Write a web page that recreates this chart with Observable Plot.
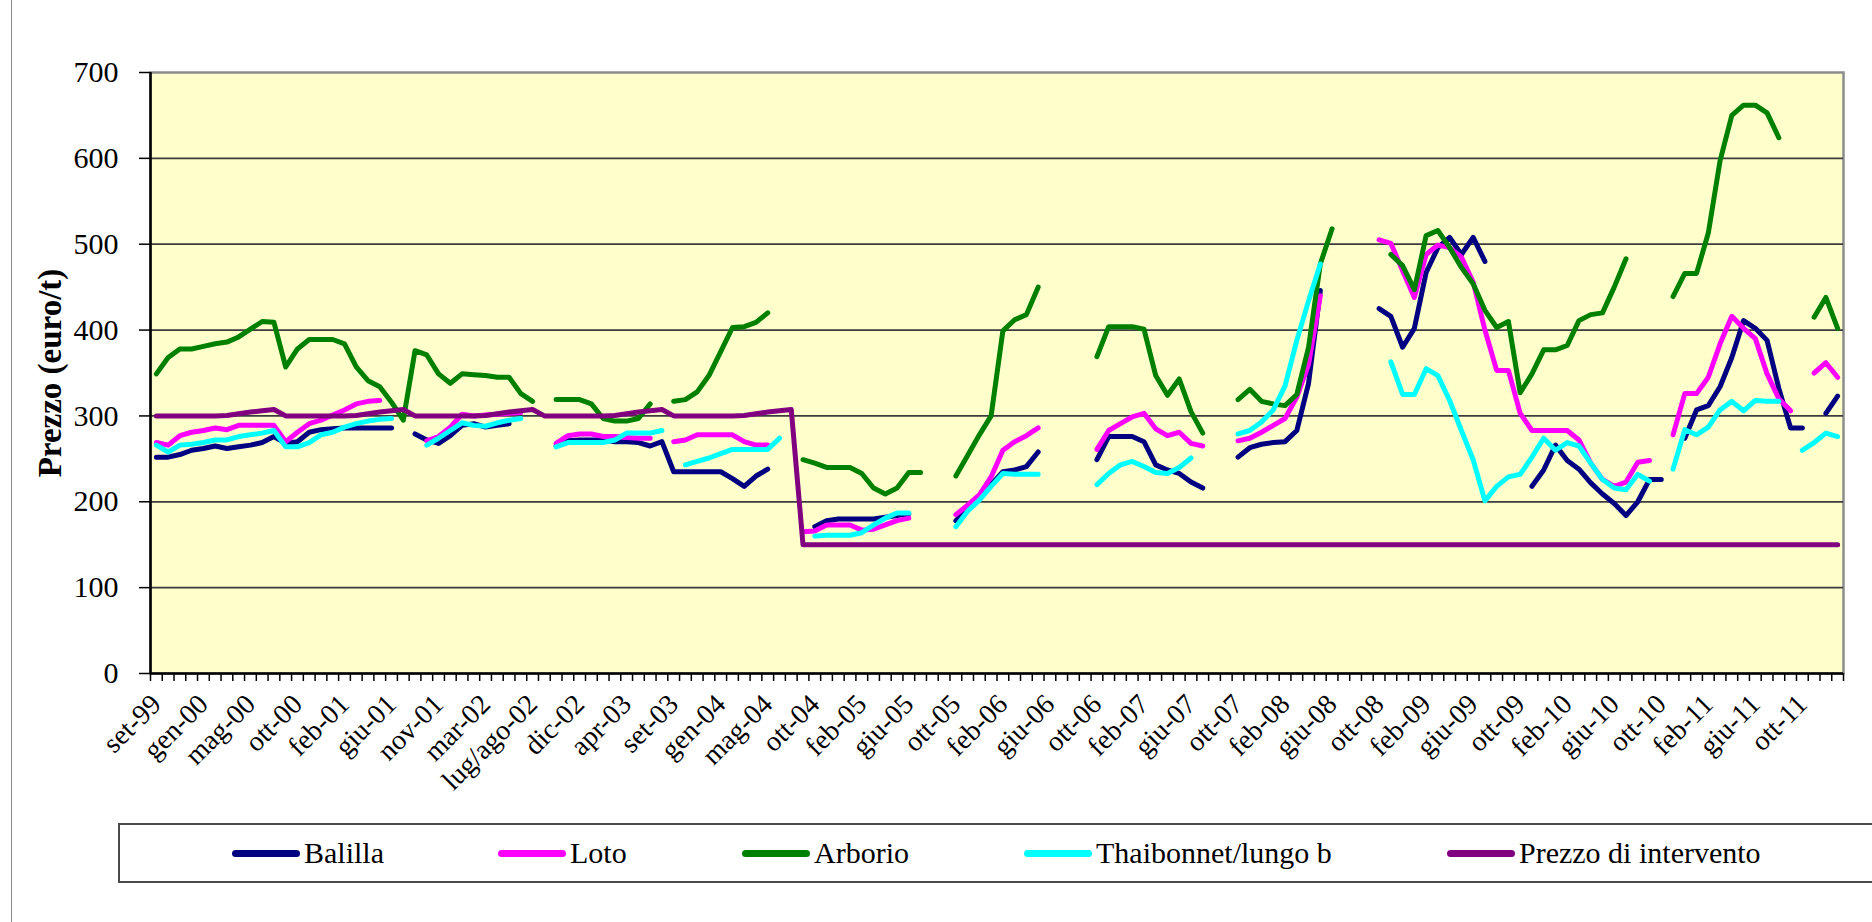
<!DOCTYPE html>
<html>
<head>
<meta charset="utf-8">
<script src="https://cdn.jsdelivr.net/npm/d3@7"></script>
<script src="https://cdn.jsdelivr.net/npm/@observablehq/plot@0.6"></script>
<style>
  body { margin: 0; background: #fff; }
  #wrap { position: relative; width: 1872px; height: 922px; overflow: hidden; font-family: "Liberation Serif", "Times New Roman", serif; }
  #chart { position: absolute; left: 0; top: 0; }
  #outer { position: absolute; left: 11px; top: -2px; width: 1900px; height: 1000px; border-left: 1px solid #8a8a8a; }
  #legend { position: absolute; left: 118px; top: 823px; width: 1800px; height: 60px; border: 2px solid #4a4a4a; box-sizing: border-box; background: #fff; }
  .item { position: absolute; top: 0; height: 100%; display: flex; align-items: center; font-family: "Liberation Serif", "Times New Roman", serif; font-size: 30px; color: #000; white-space: nowrap; }
  .sw { width: 68px; height: 7px; border-radius: 4px; margin-right: 4px; }
</style>
</head>
<body>
<div id="wrap">
  <div id="outer"></div>
  <div id="chart"></div>
  <div id="legend"></div>
</div>
<script>
// ---- categories (x axis) ----
const categories = [
  "set-99","ott-99","nov-99","dic-99","gen-00","feb-00","mar-00","apr-00","mag-00","giu-00","lug/ago-00",
  "set-00","ott-00","nov-00","dic-00","gen-01","feb-01","mar-01","apr-01","mag-01","giu-01","lug/ago-01",
  "set-01","ott-01","nov-01","dic-01","gen-02","feb-02","mar-02","apr-02","mag-02","giu-02","lug/ago-02",
  "set-02","ott-02","nov-02","dic-02","gen-03","feb-03","mar-03","apr-03","mag-03","giu-03","lug/ago-03",
  "set-03","ott-03","nov-03","dic-03","gen-04","feb-04","mar-04","apr-04","mag-04","giu-04","lug/ago-04",
  "set-04","ott-04","nov-04","dic-04","gen-05","feb-05","mar-05","apr-05","mag-05","giu-05","lug-05","ago-05",
  "set-05","ott-05","nov-05","dic-05","gen-06","feb-06","mar-06","apr-06","mag-06","giu-06","lug-06","ago-06",
  "set-06","ott-06","nov-06","dic-06","gen-07","feb-07","mar-07","apr-07","mag-07","giu-07","lug-07","ago-07",
  "set-07","ott-07","nov-07","dic-07","gen-08","feb-08","mar-08","apr-08","mag-08","giu-08","lug-08","ago-08",
  "set-08","ott-08","nov-08","dic-08","gen-09","feb-09","mar-09","apr-09","mag-09","giu-09","lug-09","ago-09",
  "set-09","ott-09","nov-09","dic-09","gen-10","feb-10","mar-10","apr-10","mag-10","giu-10","lug-10","ago-10",
  "set-10","ott-10","nov-10","dic-10","gen-11","feb-11","mar-11","apr-11","mag-11","giu-11","lug-11","ago-11",
  "set-11","ott-11","nov-11","dic-11","gen-12"
];
// labelled categories (every 4th)
const tickLabels = ["set-99","gen-00","mag-00","ott-00","feb-01","giu-01","nov-01","mar-02","lug/ago-02","dic-02",
  "apr-03","set-03","gen-04","mag-04","ott-04","feb-05","giu-05","ott-05","feb-06","giu-06","ott-06","feb-07",
  "giu-07","ott-07","feb-08","giu-08","ott-08","feb-09","giu-09","ott-09","feb-10","giu-10","ott-10","feb-11",
  "giu-11","ott-11"];
const yTicks = [0, 100, 200, 300, 400, 500, 600, 700];
const _ = null;

// ---- series (euro/t), one value per category, null = no quotation ----
const balilla = [
  252,252,255,260,262,265,262,264,266,269,276,
  268,270,281,284,285,286,286,286,286,286,_,
  279,272,268,277,289,291,287,289,291,_,_,
  _,265,271,272,272,272,270,270,269,265,270,
  235,235,235,235,235,227,218,230,238,_,_,
  _,171,178,180,180,180,180,182,184,186,_,_,
  _,178,192,204,220,235,237,241,258,_,_,_,
  _,249,276,276,276,270,243,237,233,223,216,_,
  _,252,263,267,269,270,283,338,446,_,_,_,
  _,425,416,380,402,467,496,508,488,508,480,_,
  _,_,218,237,266,248,238,222,209,198,184,200,
  226,226,_,274,307,312,334,368,411,402,388,332,
  286,286,_,303,323,313,312
];
const loto = [
  269,266,277,281,283,286,284,289,289,289,289,
  270,281,291,295,301,307,314,317,318,_,_,
  _,271,276,287,302,300,301,302,303,304,_,
  _,268,277,279,279,276,276,275,274,274,_,
  270,272,278,278,278,278,270,266,266,_,_,
  165,166,173,173,173,167,168,173,178,181,_,_,
  _,185,196,208,229,260,270,277,286,_,_,_,
  _,261,283,291,299,303,285,277,281,268,265,_,
  _,271,274,281,289,297,322,360,440,_,_,_,
  _,505,501,469,438,488,499,496,485,456,400,353,
  353,303,283,283,283,283,272,245,226,218,223,246,
  248,_,278,326,326,345,384,416,402,390,349,320,
  306,_,350,362,345,334
];
const arborio = [
  349,368,378,378,381,384,386,392,401,410,409,
  357,378,389,389,389,384,357,341,334,316,295,
  376,371,349,338,349,348,347,345,345,326,317,
  _,319,319,319,314,297,294,294,297,314,_,
  317,319,328,347,375,403,404,409,420,_,_,
  249,245,240,240,240,233,216,209,216,234,234,_,
  _,230,254,278,300,399,412,418,450,_,_,_,
  _,369,404,404,404,401,347,324,343,305,280,_,
  _,319,331,317,314,312,325,380,477,518,_,_,
  _,_,488,475,447,510,516,496,473,454,423,403,
  410,327,349,377,377,382,411,418,420,450,483,_,
  _,_,439,466,466,513,597,650,662,662,653,624,
  _,_,415,438,402,402
];
const thaibonnet = [
  266,258,266,267,269,272,272,276,278,280,283,
  264,264,269,278,281,287,291,294,296,297,_,
  _,266,274,283,292,289,288,292,295,297,_,
  _,264,269,269,269,269,272,280,280,280,283,
  _,243,247,251,256,261,261,261,261,274,_,
  _,160,161,161,161,164,173,181,187,187,_,_,
  _,171,189,202,218,233,232,232,232,_,_,_,
  _,220,233,243,247,241,234,233,240,251,_,_,
  _,279,283,293,307,335,388,434,477,_,_,_,
  _,_,363,325,325,355,347,318,283,249,201,218,
  229,232,252,274,260,269,265,245,226,216,214,232,
  224,_,238,284,278,287,307,317,306,318,317,317,
  _,260,269,280,276,275
];
const intervento = [
  300,300,300,300,300,300,300.5,302.5,304.5,306,307.5,
  300,300,300,300,300,300,300.5,302.5,304.5,306,307.5,
  300,300,300,300,300,300,300.5,302.5,304.5,306,307.5,
  300,300,300,300,300,300,300.5,302.5,304.5,306,307.5,
  300,300,300,300,300,300,300.5,302.5,304.5,306,307.5,
  150,150,150,150,150,150,150,150,150,150,150,150,
  150,150,150,150,150,150,150,150,150,150,150,150,
  150,150,150,150,150,150,150,150,150,150,150,150,
  150,150,150,150,150,150,150,150,150,150,150,150,
  150,150,150,150,150,150,150,150,150,150,150,150,
  150,150,150,150,150,150,150,150,150,150,150,150,
  150,150,150,150,150,150,150,150,150,150,150,150,
  150,150,150,150,150,150,150,150,150,150,150,150,
  150
];

const seriesNames = ["Balilla", "Loto", "Arborio", "Thaibonnet/lungo b", "Prezzo di intervento"];
const seriesValues = [balilla, loto, arborio, thaibonnet, intervento];
const seriesColors = ["#000080", "#FF00FF", "#008000", "#00FFFF", "#800080"];

const W = 1872, H = 800;
const mL = 150, mR = 29, mT = 72, mB = H - 673;
const bw = (W - mL - mR) / categories.length;
const font = '"Liberation Serif", "Times New Roman", serif';

const lineMarks = seriesValues.map((vals, k) => {
  const rows = categories.map((c, i) => ({cat: c, value: vals[i] == null ? NaN : vals[i]}));
  return Plot.line(rows, {
    x: "cat", y: "value", stroke: seriesColors[k], strokeWidth: 5,
    strokeLinecap: "round", strokeLinejoin: "round"
  });
});

const chart = Plot.plot({
  width: W, height: H,
  marginLeft: mL, marginRight: mR, marginTop: mT, marginBottom: mB,
  style: {fontFamily: font, background: "transparent", color: "#000", overflow: "visible"},
  x: {type: "band", domain: categories, padding: 0},
  y: {domain: [0, 700]},
  marks: [
    Plot.frame({fill: "#FFFFCC", stroke: "#8c8c8c", strokeWidth: 2.5}),
    Plot.ruleY(yTicks.filter(v => v > 0 && v < 700), {stroke: "#3c3c3c", strokeWidth: 1.7}),
    ...lineMarks,
    Plot.ruleY([0], {stroke: "#000", strokeWidth: 2.5}),
    Plot.ruleX([categories[0]], {dx: -bw / 2, stroke: "#000", strokeWidth: 2.5}),
    Plot.axisY({ticks: yTicks, tickSize: 11, tickPadding: 21, fontSize: 30, label: null, tickFormat: d => String(d), stroke: "#000", strokeWidth: 1.5}),
    Plot.axisX({ticks: categories, tickSize: 8, tickFormat: () => "", dx: -bw / 2, label: null, stroke: "#000", strokeWidth: 1.5}),
    Plot.axisX({ticks: [categories[categories.length - 1]], tickSize: 8, tickFormat: () => "", dx: bw / 2, label: null, stroke: "#000", strokeWidth: 1.5}),
    Plot.axisX({ticks: tickLabels, tickSize: 0, tickRotate: -45, tickPadding: 26, fontSize: 28, label: null}),
    Plot.text(["Prezzo (euro/t)"], {frameAnchor: "left", dx: -100, rotate: -90, textAnchor: "middle", fontSize: 33, fontWeight: "bold", fill: "#000"})
  ]
});
document.getElementById("chart").appendChild(chart);

// legend
const legendX = [112, 378, 622, 904, 1327];
const legend = document.getElementById("legend");
seriesNames.forEach((name, k) => {
  const item = document.createElement("div");
  item.className = "item";
  item.style.left = legendX[k] + "px";
  const sw = document.createElement("div");
  sw.className = "sw";
  sw.style.background = seriesColors[k];
  const t = document.createElement("span");
  t.textContent = name;
  item.appendChild(sw);
  item.appendChild(t);
  legend.appendChild(item);
});
</script>
</body>
</html>
